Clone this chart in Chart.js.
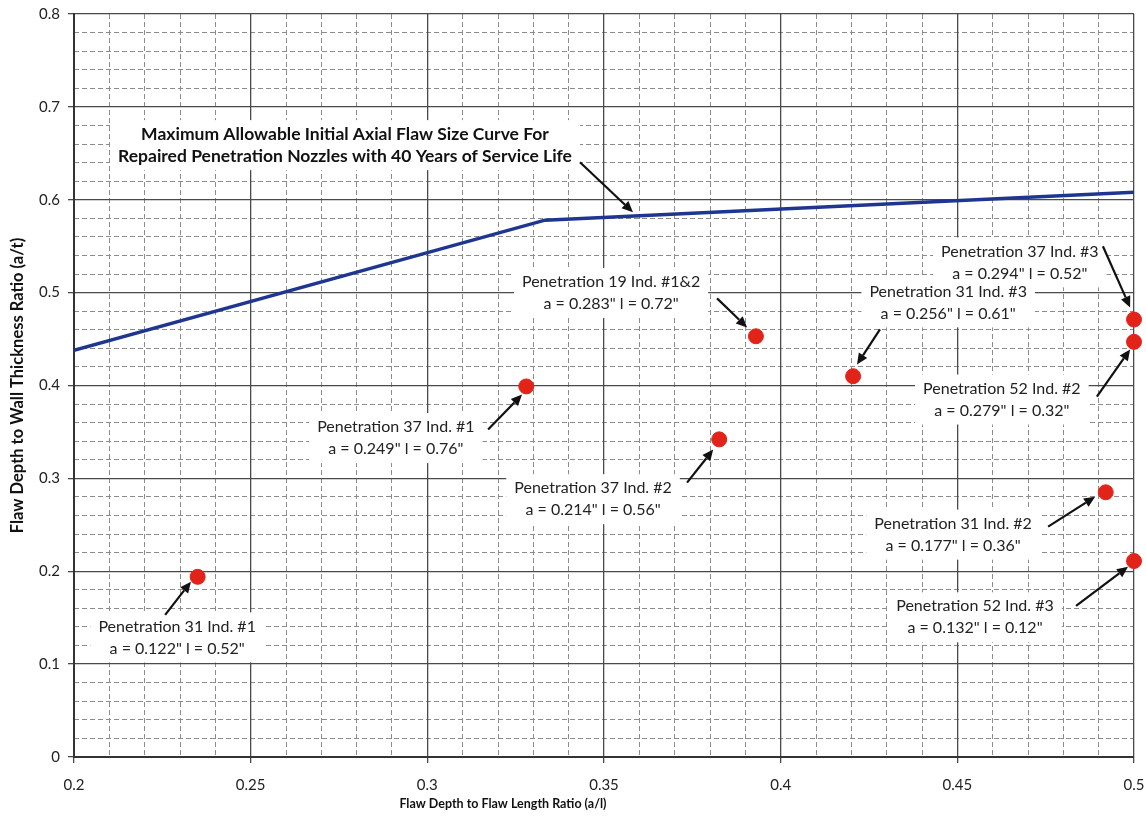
<!DOCTYPE html>
<html><head><meta charset="utf-8">
<script src="https://cdn.jsdelivr.net/npm/chart.js@4/dist/chart.umd.min.js"></script>
<style>html,body{margin:0;padding:0;background:#fff}#wrap{width:1146px;height:820px}</style>
</head><body><div id="wrap"><canvas id="c" width="1146" height="820"></canvas></div>
<script>
// ---- data ----
const curveX = [0.2, 0.3333, 0.5];
const curveY = [0.438, 0.578, 0.608];

const flawX = [0.235, 0.328, 0.393, 0.3826, 0.4205, 0.5, 0.5, 0.492, 0.5];
const flawY = [0.194, 0.399, 0.453, 0.342, 0.410, 0.471, 0.447, 0.285, 0.211];
const flawNames = ['Penetration 31 Ind. #1', 'Penetration 37 Ind. #1', 'Penetration 19 Ind. #1&2',
  'Penetration 37 Ind. #2', 'Penetration 31 Ind. #3', 'Penetration 37 Ind. #3',
  'Penetration 52 Ind. #2', 'Penetration 31 Ind. #2', 'Penetration 52 Ind. #3'];
const flawSizes = ['a = 0.122" l = 0.52"', 'a = 0.249" l = 0.76"', 'a = 0.283" l = 0.72"',
  'a = 0.214" l = 0.56"', 'a = 0.256" l = 0.61"', 'a = 0.294" l = 0.52"',
  'a = 0.279" l = 0.32"', 'a = 0.177" l = 0.36"', 'a = 0.132" l = 0.12"'];

const curveNote = ['Maximum Allowable Initial Axial Flaw Size Curve For',
  'Repaired Penetration Nozzles with 40 Years of Service Life'];

const xTickValues = [0.2, 0.25, 0.3, 0.35, 0.4, 0.45, 0.5];
const yTickValues = [0, 0.1, 0.2, 0.3, 0.4, 0.5, 0.6, 0.7, 0.8];
const xTitle = 'Flaw Depth to Flaw Length Ratio (a/l)';
const yTitle = 'Flaw Depth to Wall Thickness Ratio (a/t)';

// ---- annotation layout (data units): label centre, arrow tail, arrow tip ----
const noteCenter = [[0.2292,0.1288],[0.2911,0.3434],[0.3520,0.4997],[0.3469,0.2776],[0.4474,0.4895],
  [0.4677,0.5326],[0.4626,0.3849],[0.4488,0.2394],[0.4550,0.1504]];
const noteTail = [[0.2258,0.1531],[0.3172,0.3526],[0.3820,0.4938],[0.3735,0.2954],[0.4281,0.4604],
  [0.4912,0.5499],[0.4895,0.3881],[0.4757,0.2480],[0.4836,0.1628]];
const noteTip = [[0.2331,0.1887],[0.3268,0.3903],[0.3905,0.4625],[0.3809,0.3310],[0.4216,0.4226],
  [0.4989,0.4841],[0.4989,0.4388],[0.4890,0.2803],[0.4983,0.2049]];
const curveNoteAt = {c:[0.2767,0.6588], tail:[0.3432,0.6404], tip:[0.3582,0.5865]};
const xTitleAt = 0.3214;

const FONT = 'Lato, "Open Sans", sans-serif';
const fmt = v => String(Number(v.toFixed(2)));
const isStep = (v, s) => Math.abs(v / s - Math.round(v / s)) < 1e-6;

function arrow(ctx, x1, y1, x2, y2) {
  const a = Math.atan2(y2 - y1, x2 - x1), L = 11, W = 5;
  const bx = x2 - L * Math.cos(a), by = y2 - L * Math.sin(a);
  ctx.save();
  ctx.strokeStyle = '#111'; ctx.fillStyle = '#111'; ctx.lineWidth = 2.2;
  ctx.beginPath(); ctx.moveTo(x1, y1); ctx.lineTo(bx, by); ctx.stroke();
  ctx.beginPath(); ctx.moveTo(x2, y2);
  ctx.lineTo(bx + W * Math.sin(a), by - W * Math.cos(a));
  ctx.lineTo(bx - W * Math.sin(a), by + W * Math.cos(a));
  ctx.closePath(); ctx.fill();
  ctx.restore();
}

function allNotes() {
  const list = flawNames.map((n, i) => ({lines: [n, flawSizes[i]], c: noteCenter[i], tail: noteTail[i], tip: noteTip[i], bold: false}));
  list.push({lines: curveNote, c: curveNoteAt.c, tail: curveNoteAt.tail, tip: curveNoteAt.tip, bold: true});
  return list;
}
function noteFont(n) { return n.bold ? 'bold 17.5px ' + FONT : '16px ' + FONT; }
const LINE_H = 22;

const notesPlugin = {
  id: 'notes',
  beforeDatasetsDraw(chart) {
    const {ctx, scales: {x, y}} = chart;
    ctx.save();
    allNotes().forEach(n => {
      ctx.font = noteFont(n);
      const w = Math.max(...n.lines.map(t => ctx.measureText(t).width));
      const h = n.lines.length * LINE_H;
      const cx = x.getPixelForValue(n.c[0]), cy = y.getPixelForValue(n.c[1]);
      ctx.fillStyle = '#fff';
      ctx.fillRect(cx - w / 2 - 8, cy - h / 2 - 3, w + 16, h + 6);
    });
    ctx.restore();
  },
  afterDatasetsDraw(chart) {
    const {ctx, scales: {x, y}} = chart;
    ctx.save();
    allNotes().forEach(n => {
      ctx.font = noteFont(n);
      ctx.fillStyle = n.bold ? '#111' : '#222';
      ctx.textAlign = 'center'; ctx.textBaseline = 'middle';
      const cx = x.getPixelForValue(n.c[0]), cy = y.getPixelForValue(n.c[1]);
      const top = cy - (n.lines.length * LINE_H) / 2 + LINE_H / 2;
      n.lines.forEach((t, k) => ctx.fillText(t, cx, top + k * LINE_H));
      arrow(ctx, x.getPixelForValue(n.tail[0]), y.getPixelForValue(n.tail[1]),
        x.getPixelForValue(n.tip[0]), y.getPixelForValue(n.tip[1]));
    });
    // x axis title
    ctx.font = 'bold 12.5px ' + FONT;
    ctx.fillStyle = '#111';
    ctx.textAlign = 'center'; ctx.textBaseline = 'middle';
    ctx.fillText(xTitle, x.getPixelForValue(xTitleAt), 804);
    ctx.restore();
  }
};

const minorColor = (step, major) => ctx => {
  const v = ctx.tick ? ctx.tick.value : null;
  if (v === null || isStep(v, major)) return 'rgba(0,0,0,0)';
  return '#8c8c8c';
};
const noPad = s => { s.paddingLeft = 0; s.paddingRight = 0; s.paddingTop = 0; s.paddingBottom = 0; };

new Chart(document.getElementById('c'), {
  type: 'scatter',
  data: {
    datasets: [
      {
        label: 'Allowable curve',
        data: curveX.map((v, i) => ({x: v, y: curveY[i]})),
        showLine: true, borderColor: '#1f3690', borderWidth: 3.5,
        pointRadius: 0, xAxisID: 'x', yAxisID: 'y'
      },
      {
        label: 'Flaws',
        data: flawX.map((v, i) => ({x: v, y: flawY[i]})),
        backgroundColor: '#e2231a', borderColor: '#e2231a',
        pointRadius: 7.5, clip: false, xAxisID: 'x', yAxisID: 'y'
      }
    ]
  },
  options: {
    responsive: false, animation: false, devicePixelRatio: 1,
    layout: {padding: {top: 14, right: 12, left: 0, bottom: 0}},
    plugins: {legend: {display: false}, tooltip: {enabled: false}},
    scales: {
      x2: {
        type: 'linear', position: 'bottom', min: 0.2, max: 0.5,
        ticks: {display: false, stepSize: 0.01},
        grid: {color: minorColor(0.01, 0.05), lineWidth: 1, drawTicks: false},
        border: {display: false, dash: [5, 3]},
        afterFit: s => { s.height = 0; noPad(s); }
      },
      y2: {
        type: 'linear', position: 'left', min: 0, max: 0.8,
        ticks: {display: false, stepSize: 0.02},
        grid: {color: minorColor(0.02, 0.1), lineWidth: 1, drawTicks: false},
        border: {display: false, dash: [5, 3]},
        afterFit: s => { s.width = 0; noPad(s); }
      },
      x: {
        type: 'linear', position: 'bottom', min: 0.2, max: 0.5,
        afterBuildTicks: s => { s.ticks = xTickValues.map(v => ({value: v})); },
        ticks: {callback: v => fmt(v), color: '#222', font: {family: FONT, size: 15}, padding: 13, maxRotation: 0},
        grid: {color: '#4a4a4a', lineWidth: 1.3, tickLength: 6, tickColor: '#4a4a4a'},
        border: {color: '#333', width: 2},
        afterFit: s => { s.height = 63; noPad(s); }
      },
      y: {
        type: 'linear', position: 'left', min: 0, max: 0.8,
        afterBuildTicks: s => { s.ticks = yTickValues.map(v => ({value: v})); },
        ticks: {callback: v => fmt(v), color: '#222', font: {family: FONT, size: 15}, padding: 8},
        grid: {color: '#4a4a4a', lineWidth: 1.3, tickLength: 6, tickColor: '#4a4a4a'},
        border: {color: '#333', width: 2},
        title: {display: true, text: yTitle, color: '#111', font: {family: FONT, size: 16.5, weight: 'bold'}, padding: {top: 8, bottom: 0}},
        afterFit: s => { s.width = 74; noPad(s); }
      }
    }
  },
  plugins: [notesPlugin]
});
</script>
</body></html>
